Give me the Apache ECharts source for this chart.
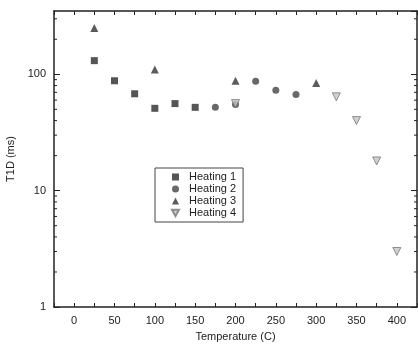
<!DOCTYPE html>
<html>
<head>
<meta charset="utf-8">
<script src="https://cdn.jsdelivr.net/npm/echarts@6/dist/echarts.min.js"></script>
<style>
  html, body { margin: 0; padding: 0; background: #fff; }
  #main { width: 418px; height: 344px; }
</style>
</head>
<body>
<div id="main"></div>
<script>
// data
var heating1 = [[25, 131], [50, 88], [75, 68], [100, 51], [125, 56], [150, 52]];
var heating2 = [[175, 52], [200, 55], [225, 87], [250, 73], [275, 67]];
var heating3 = [[25, 250], [100, 110], [200, 88], [300, 84]];
var heating4 = [[200, 56], [325, 64], [350, 40], [375, 18], [400, 3]];
var xLabels = [0, 50, 100, 150, 200, 250, 300, 350, 400];
var yLabels = [1, 10, 100];
var minorY = [2, 3, 4, 5, 6, 7, 8, 9, 20, 30, 40, 50, 60, 70, 80, 90, 200, 300];

var X_MIN = -25, X_MAX = 425;
var font = 'Liberation Sans, Arial, sans-serif';
var ink = '#222';
var downTri = 'path://M0,0 L10,0 L5,9 Z';

var myChart = echarts.init(document.getElementById('main'));

function baseX(pos, showLabels) {
    return {
        type: 'value', position: pos, min: X_MIN, max: X_MAX, interval: 25,
        axisLine: { onZero: false, lineStyle: { color: ink, width: 1.5 } },
        axisTick: { inside: true, length: 4, lineStyle: { color: ink } },
        splitLine: { show: false },
        axisLabel: {
            show: showLabels, color: ink, fontFamily: font, fontSize: 11, margin: 8,
            formatter: function (v) { return xLabels.indexOf(v) >= 0 ? String(v) : ''; }
        },
        name: showLabels ? 'Temperature (C)' : '',
        nameLocation: 'middle', nameGap: 24,
        nameTextStyle: { color: ink, fontFamily: font, fontSize: 11 }
    };
}

function baseY(pos, showLabels) {
    return {
        type: 'log', logBase: 10, position: pos, min: 1, max: 350, interval: 1,
        axisLine: { onZero: false, lineStyle: { color: ink, width: 1.5 } },
        axisTick: { inside: true, length: 6, lineStyle: { color: ink } },
        splitLine: { show: false },
        axisLabel: {
            show: showLabels, color: ink, fontFamily: font, fontSize: 11, margin: 8,
            showMaxLabel: false,
            formatter: function (v) { return yLabels.indexOf(Math.round(v)) >= 0 && Math.abs(v - Math.round(v)) < 1e-6 ? String(Math.round(v)) : ''; }
        },
        name: showLabels ? 'T1D (ms)' : '',
        nameLocation: 'middle', nameGap: 36, nameRotate: 90,
        nameTextStyle: { color: ink, fontFamily: font, fontSize: 11 }
    };
}

var option = {
    animation: false,
    backgroundColor: '#fff',
    grid: { left: 54, right: 1, top: 11, bottom: 37, containLabel: false, outerBoundsMode: 'none' },
    xAxis: [baseX('bottom', true), baseX('top', false)],
    yAxis: [baseY('left', true), baseY('right', false)],
    legend: {
        orient: 'vertical', left: 155, top: 168,
        backgroundColor: '#fff', borderColor: '#444', borderWidth: 1,
        padding: [3, 7, 3, 16], itemGap: 0, itemWidth: 7, itemHeight: 7,
        textStyle: { color: ink, fontFamily: font, fontSize: 11, lineHeight: 12, padding: [0, 0, 0, 5] },
        data: ['Heating 1', 'Heating 2', 'Heating 3', 'Heating 4']
    },
    series: [
        { name: 'Heating 1', type: 'scatter', data: heating1, symbol: 'rect', symbolSize: 7,
          itemStyle: { color: '#2a2a2a' } },
        { name: 'Heating 2', type: 'scatter', data: heating2, symbol: 'circle', symbolSize: 7,
          itemStyle: { color: '#444' } },
        { name: 'Heating 3', type: 'scatter', data: heating3, symbol: 'triangle', symbolSize: 8,
          itemStyle: { color: '#333' } },
        { name: 'Heating 4', type: 'scatter', data: heating4, symbol: downTri, symbolSize: 8,
          itemStyle: { color: '#c4c4c4', borderColor: '#777', borderWidth: 1 } },
        {
            // minor log ticks on the left and right frame
            type: 'custom', silent: true, clip: false, legendHoverLink: false,
            data: minorY.map(function (v) { return [X_MIN, v]; }),
            renderItem: function (params, api) {
                var v = api.value(1);
                var l = api.coord([X_MIN, v]);
                var r = api.coord([X_MAX, v]);
                var st = { stroke: ink, lineWidth: 1 };
                return {
                    type: 'group', children: [
                        { type: 'line', shape: { x1: l[0], y1: l[1], x2: l[0] + 3, y2: l[1] }, style: st },
                        { type: 'line', shape: { x1: r[0], y1: r[1], x2: r[0] - 3, y2: r[1] }, style: st }
                    ]
                };
            }
        }
    ]
};

myChart.setOption(option);
</script>
</body>
</html>
